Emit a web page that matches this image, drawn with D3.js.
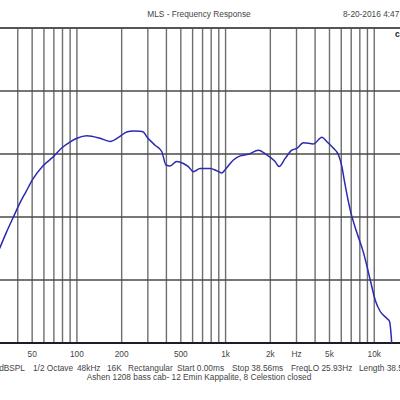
<!DOCTYPE html>
<html>
<head>
<meta charset="utf-8">
<script src="https://cdn.jsdelivr.net/npm/d3@7"></script>
<style>
body{margin:0;background:#fff;}
text{font-family:"Liberation Sans",Arial,sans-serif;}
</style>
</head>
<body>
<div id="chart"></div>
<script>
// measured response (Hz / dB SPL)
var freqs = [27, 30.3, 33.6, 37.4, 41.3, 45.4, 50.5, 59, 68.9, 79.3, 89.7, 100, 116.8, 142.8, 166.8, 194.8, 216.1, 239.4, 265.6, 279.6, 294.8,
	335.2, 371.9, 397.5, 423, 469.2, 519.8, 561.7, 607.2, 673.5, 786.6, 872.3, 942.8, 992.2, 1128.5, 1252, 1424, 1663, 1894, 2154, 2293,
	2516, 2791, 3017, 3341, 3901, 4445, 4803, 5320, 5749, 6061, 6281, 6895, 7645, 8472, 9399, 10156, 10975, 12174, 12678, 13016, 13220, 13900, 14500];
var spl = [62.5, 65.1, 67.6, 70.0, 72.2, 74.0, 76.0, 78.1, 79.5, 81.0, 81.9, 82.5, 82.9, 82.5, 82.0, 82.8, 83.5, 83.65, 83.6, 83.5, 82.75,
	81.4, 80.4, 78.25, 78.1, 78.8, 78.5, 78.0, 77.2, 77.7, 77.7, 77.35, 77.0, 77.5, 79.05, 79.7, 79.95, 80.6, 79.85, 78.8, 78.0,
	79.3, 80.6, 80.9, 81.8, 81.6, 82.65, 81.95, 80.9, 79.85, 78.0, 75.9, 71.1, 67.5, 64.3, 60.0, 56.8, 55.0, 53.9, 53.4, 51.0, 48.6, 47.0, 50.0];

var gridFreqs = [20,30,40,50,60,70,80,90,100,200,300,400,500,600,700,800,900,1000,2000,3000,4000,5000,6000,7000,8000,9000,10000,20000];
var tickFreqs = [50, 100, 200, 500, 1000, 2000, 3000, 5000, 10000];
var tickLabels = ["50", "100", "200", "500", "1k", "2k", "Hz", "5k", "10k"];
var dbTicks = [50, 60, 70, 80, 90, 100];

var infoText = ["dBSPL", "1/2 Octave", "48kHz", "16K", "Rectangular", "Start 0.00ms", "Stop 38.56ms", "FreqLO 25.93Hz", "Length 38.56ms"];
var infoPos = [25, 33, 77, 107, 128, 177, 232, 291, 359];

var width = 400, height = 400;
var plot = {left:-27, right:419, top:28, bottom:343};
var fontSize = "8.3px";

var svg = d3.select("#chart").append("svg")
	.attr("width", width)
	.attr("height", height);

svg.append("rect").attr("width", width).attr("height", height).style("fill", "#fff");

var x = d3.scaleLog().domain([20, 20000]).range([plot.left, plot.right]);
var y = d3.scaleLinear().domain([50, 100]).range([plot.bottom, plot.top]);

svg.append("clipPath").attr("id", "plotClip")
	.append("rect")
	.attr("x", plot.left).attr("y", plot.top)
	.attr("width", plot.right - plot.left).attr("height", plot.bottom - plot.top);

// vertical grid
svg.selectAll(".vgrid").data(gridFreqs).enter().append("line")
	.attr("class", "vgrid")
	.attr("x1", function(d){ return x(d); })
	.attr("x2", function(d){ return x(d); })
	.attr("y1", plot.top)
	.attr("y2", plot.bottom)
	.style("stroke", "#6e6e6e")
	.style("stroke-width", 1.4);

// horizontal grid
svg.selectAll(".hgrid").data(dbTicks.slice(1, -1)).enter().append("line")
	.attr("class", "hgrid")
	.attr("x1", plot.left)
	.attr("x2", plot.right)
	.attr("y1", function(d){ return y(d); })
	.attr("y2", function(d){ return y(d); })
	.style("stroke", "#4a4a4a")
	.style("stroke-width", 1.3);

// top + bottom frame
svg.append("line")
	.attr("x1", plot.left).attr("x2", plot.right)
	.attr("y1", y(100)).attr("y2", y(100))
	.style("stroke", "#555").style("stroke-width", 2);
svg.append("line")
	.attr("x1", plot.left).attr("x2", plot.right)
	.attr("y1", y(50)).attr("y2", y(50))
	.style("stroke", "#1c1c2c").style("stroke-width", 2);

var line = d3.line()
	.x(function(d){ return x(d[0]); })
	.y(function(d){ return y(d[1]); })
	.curve(d3.curveMonotoneX);

svg.append("path")
	.datum(freqs.map(function(f, i){ return [f, spl[i]]; }))
	.attr("clip-path", "url(#plotClip)")
	.attr("d", line)
	.style("fill", "none")
	.style("stroke", "#2b2bb0")
	.style("stroke-width", 1.5);

// x labels
svg.selectAll(".xlabel").data(tickFreqs).enter().append("text")
	.attr("class", "xlabel")
	.attr("x", function(d){ return x(d); })
	.attr("y", 357)
	.attr("text-anchor", "middle")
	.style("font-size", fontSize)
	.style("fill", "#444")
	.text(function(d, i){ return tickLabels[i]; });

svg.selectAll(".info").data(infoText).enter().append("text")
	.attr("class", "info")
	.attr("x", function(d, i){ return infoPos[i]; })
	.attr("y", 370.5)
	.attr("text-anchor", function(d, i){ return i == 0 ? "end" : "start"; })
	.style("font-size", fontSize)
	.style("fill", "#444")
	.text(function(d){ return d; });

svg.append("text")
	.attr("x", 199).attr("y", 379.5)
	.attr("text-anchor", "middle")
	.style("font-size", fontSize)
	.style("fill", "#444")
	.text("Ashen 1208 bass cab- 12 Emin Kappalite, 8 Celestion closed");

// header
svg.append("text")
	.attr("x", 199).attr("y", 17)
	.attr("text-anchor", "middle")
	.style("font-size", fontSize)
	.style("fill", "#444")
	.text("MLS - Frequency Response");

svg.append("text")
	.attr("x", 343).attr("y", 17)
	.style("font-size", fontSize)
	.style("fill", "#444")
	.text("8-20-2016 4:47 PM");

svg.append("text")
	.attr("x", 395).attr("y", 37)
	.style("font-size", "8.5px")
	.style("font-weight", "bold")
	.style("fill", "#222")
	.text("cab");
</script>
</body>
</html>
